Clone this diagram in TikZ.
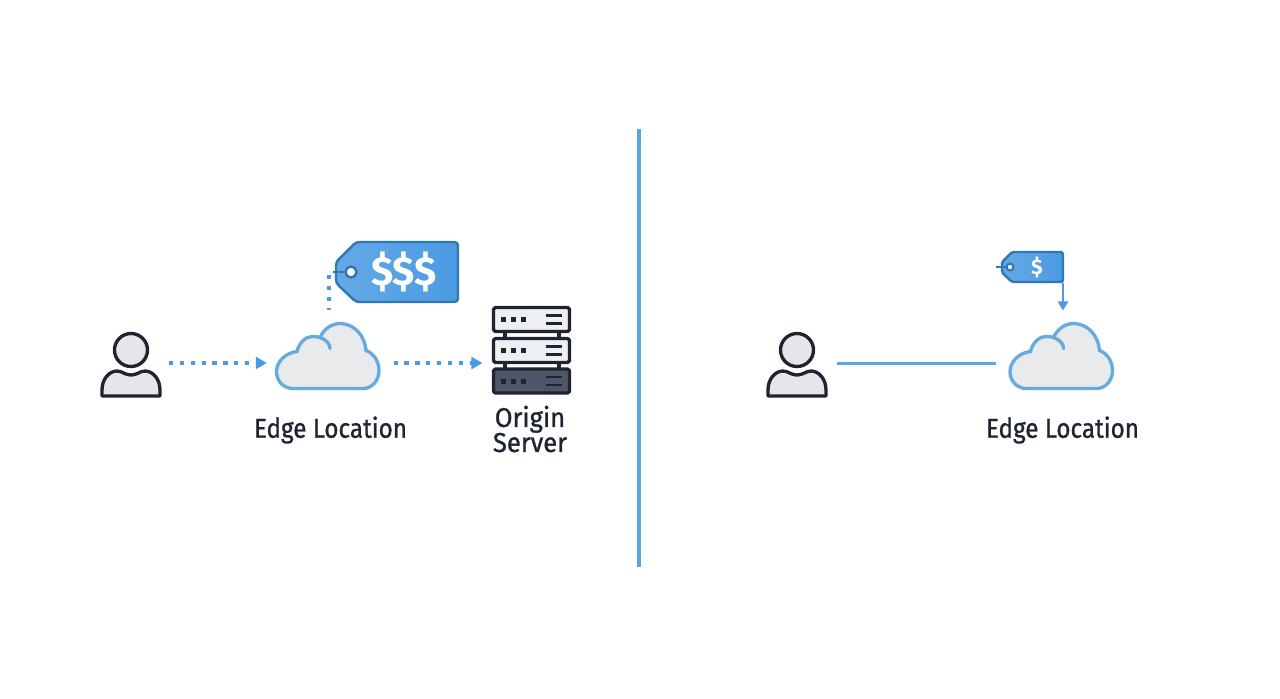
\documentclass[tikz,border=0pt]{standalone}
\usepackage{fontspec}
\usetikzlibrary{arrows.meta,positioning}
\newfontfamily\labelfont[FakeBold=1,FakeStretch=0.89]{Fira Sans}
\newfontfamily\serverfont[FakeBold=1,FakeStretch=0.94]{Fira Sans}
\newfontfamily\pricefont[BoldFont=*]{Fira Sans Bold}
\definecolor{flowblue}{HTML}{4A9AE2}
\definecolor{lineblue}{HTML}{5AA6DE}
\definecolor{cloudedge}{HTML}{66ABE0}
\definecolor{cloudfill}{HTML}{E8EAEC}
\definecolor{inkdark}{HTML}{1E2430}
\definecolor{userfill}{HTML}{E6E6E8}
\definecolor{tagedge}{HTML}{2F78B8}
\definecolor{srvlight}{HTML}{EEEFF2}
\definecolor{srvdark}{HTML}{50566A}
\tikzset{
  box/.style 2 args={inner sep=0pt,outer sep=0pt,minimum width=#1*0.569pt,minimum height=#2*0.569pt},
  iconink/.style={draw=inkdark,line width=1.9pt,line join=round},
  flowdot/.style={draw=flowblue,line width=1.9pt,dash pattern=on 2.4pt off 3.8pt},
  flowtip/.style={-{Triangle[length=6.3pt,width=6.8pt,fill=flowblue]}},
  itemlabel/.style={font=\labelfont\fontsize{15.5}{14.2}\selectfont,text=inkdark,align=center,inner sep=0pt},
  price/.style={text=white,inner sep=0pt},
  pics/usericon/.style={code={
    \draw[iconink,fill=userfill] (0,-13) circle (16.5);
    \draw[iconink,fill=userfill] (-29,33) -- (-29,27) .. controls (-29,15) and (-21,8) .. (-14,8)
      .. controls (-9,8) and (-6,12) .. (0,12) .. controls (6,12) and (9,8) .. (14,8)
      .. controls (21,8) and (29,15) .. (29,27) -- (29,33) -- cycle;
  }},
  pics/cloudicon/.style={code={
    \draw[draw=cloudedge,line width=1.9pt,fill=cloudfill] (-35,33) .. controls (-45,33) and (-51.5,25) .. (-51.5,16)
      .. controls (-51.5,6) and (-42,-3) .. (-31,-4) .. controls (-29,-13) and (-22,-19) .. (-16,-19)
      .. controls (-13,-19) and (-10,-19) .. (-8,-18) .. controls (-4,-27) and (4,-32) .. (12,-32)
      .. controls (26,-32) and (37,-20) .. (38,-5) .. controls (46,-2) and (51,6) .. (51,15)
      .. controls (51,25) and (44,33) .. (35,33) -- cycle;
    \draw[draw=cloudedge,line width=1.9pt,line cap=round] (-8,-18) .. controls (-2,-16) and (2,-12) .. (2,-7);
  }},
  pics/tagicon/.style={code={
    \draw[draw=tagedge,line width=1.4pt,left color=flowblue!85!white,right color=flowblue,rounded corners=#1]
      (-61,-10) -- (-41,-30) -- (61,-30) -- (61,30) -- (-41,30) -- (-61,11) -- cycle;
  }},
  pics/serverunit/.style={code={
    \draw[iconink,fill=#1,rounded corners=1pt] (-38,-12) rectangle (38,12);
    \foreach \dotx in {-28,-18,-8} \fill[inkdark] (\dotx-2.5,-2.5) rectangle (\dotx+2.5,2.5);
    \draw[inkdark,line width=1.5pt] (14,-4) -- (30,-4) (14,4) -- (30,4);
  }},
}
\begin{document}
\begin{tikzpicture}[x=0.02cm,y=-0.02cm,>=stealth]
  \useasboundingbox (0,0) rectangle (1280,698);

  % left side
  \node[box={60}{66}] (userA) at (131,363) {};
  \node[box={103}{66}] (cloudA) at (328,355.5) {};
  \node[box={122}{60}] (tagA) at (397,272) {};
  \node[box={77}{86}] (serverA) at (531.5,350) {};
  \pic at (userA) {usericon};
  \pic at (cloudA) {cloudicon};
  \pic at (tagA) {tagicon=2pt};
  \pic at (531.5,319.5) {serverunit=srvlight};
  \pic at (531.5,350.5) {serverunit=srvlight};
  \pic at (531.5,381) {serverunit=srvdark};
  \draw[iconink] (505,332) -- (505,338) (559,332) -- (559,338) (505,363) -- (505,369) (559,363) -- (559,369);
  \node[price,font=\pricefont\fontsize{23}{23}\selectfont] (priceA) at (404,272) {\$\$\$};
  \node[itemlabel] (labelA) at (330.5,430) {Edge Location};
  \node[itemlabel,font=\serverfont\fontsize{15.5}{14.2}\selectfont] (labelS) at (530,429) {Origin\\Server};

  % punch hole and string
  \coordinate (hookA) at (329,275);
  \draw[flowdot,line width=2.1pt,shorten >=7pt] (hookA) -- (hookA |- cloudA.north);
  \draw[draw=tagedge,line width=1.4pt] (333,272) -- (346,272);
  \draw[draw=tagedge,line width=1.4pt,fill=white] (351,272) circle (5.5);

  \draw[flowdot,flowtip,shorten <=4.5pt,shorten >=5.5pt] (userA.east |- 0,363) -- (cloudA.west |- 0,363);
  \draw[flowdot,flowtip,shorten <=8pt,shorten >=6pt] (cloudA.east |- 0,363) -- (serverA.west |- 0,363);

  % divider
  \coordinate (dividerT) at (639,129);
  \coordinate (dividerB) at (639,567);
  \draw[lineblue,line width=1.8pt] (dividerT) -- (dividerB);

  % right side
  \node[box={60}{66}] (userB) at (797,363) {};
  \node[box={103}{66}] (cloudB) at (1061.5,355.5) {};
  \node[box={61}{32}] (tagB) at (1032.5,267) {};
  \pic at (userB) {usericon};
  \pic at (cloudB) {cloudicon};
  \pic[scale=.5] at (tagB) {tagicon=1pt};
  \node[price,font=\pricefont\fontsize{12}{12}\selectfont] (priceB) at (1037,267) {\$};
  \node[itemlabel] (labelB) at (1062.5,430) {Edge Location};

  \coordinate (hookB) at (996,267);
  \draw[draw=tagedge,line width=1.2pt] (hookB) -- (1007,267);
  \draw[draw=tagedge,line width=1.2pt,fill=white] (1010,267) circle (3.5);

  \draw[lineblue,line width=1.7pt,shorten <=5.5pt,shorten >=8pt] (userB.east |- 0,363) -- (cloudB.west |- 0,363);
  \draw[flowblue,line width=1.5pt,-{Triangle[length=5.2pt,width=5.8pt]},shorten >=6.8pt] (tagB.south east) -- (tagB.south east |- cloudB.north);
\end{tikzpicture}
\end{document}
